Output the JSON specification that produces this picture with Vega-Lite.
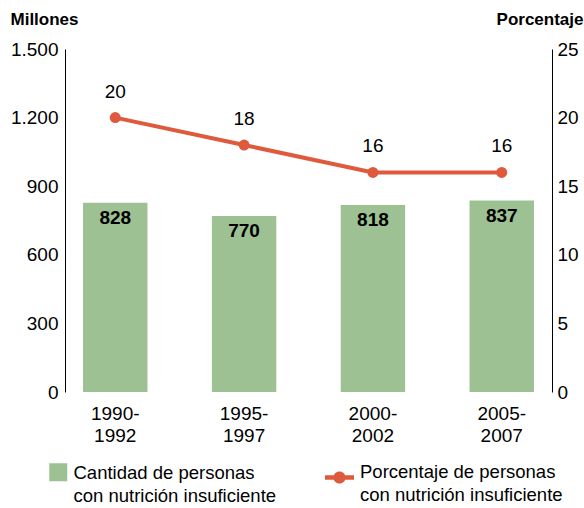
{
  "$schema": "https://vega.github.io/schema/vega-lite/v6.json",
  "width": 487,
  "height": 343,
  "autosize": "none",
  "padding": {"left": 65, "top": 49, "right": 32, "bottom": 116},
  "config": {
    "view": {"stroke": null},
    "font": "Liberation Sans",
    "axis": {"labelColor": "black", "titleColor": "black", "domainColor": "black", "grid": false, "ticks": false, "labelFontSize": 19}
  },
  "data": {
    "values": [
      {"periodo": "1990-1992", "personas": 828, "porcentaje": 20},
      {"periodo": "1995-1997", "personas": 770, "porcentaje": 18},
      {"periodo": "2000-2002", "personas": 818, "porcentaje": 16},
      {"periodo": "2005-2007", "personas": 837, "porcentaje": 16}
    ]
  },
  "encoding": {
    "x": {
      "field": "periodo",
      "type": "nominal",
      "sort": null,
      "scale": {"paddingInner": 0.5, "paddingOuter": 0.14},
      "axis": {
        "title": null,
        "domain": false,
        "labelAngle": 0,
        "labelPadding": 12,
        "labelLineHeight": 22,
        "labelExpr": "[slice(datum.label,0,5), slice(datum.label,5)]"
      }
    }
  },
  "layer": [
    {
      "encoding": {
        "y": {
          "field": "personas",
          "type": "quantitative",
          "scale": {"domain": [0, 1500]},
          "axis": {
            "title": "Millones",
            "titleAngle": 0,
            "titleAlign": "left",
            "titleBaseline": "alphabetic",
            "titleX": -55,
            "titleY": -25,
            "titleFontWeight": "bold",
            "titleFontSize": 17,
            "values": [0, 300, 600, 900, 1200, 1500],
            "labelExpr": "replace(format(datum.value, ','), ',', '.')",
            "labelPadding": 7
          }
        }
      },
      "layer": [
        {
          "mark": {"type": "bar"},
          "encoding": {
            "fill": {
              "datum": "Cantidad de personas con nutrición insuficiente",
              "scale": {"range": ["#9dc192"]},
              "legend": {
                "title": null,
                "orient": "none",
                "legendX": -16,
                "legendY": 414,
                "symbolType": "square",
                "symbolSize": 324,
                "symbolStrokeWidth": 0,
                "labelFontSize": 18.5,
                "labelColor": "black",
                "labelOffset": 6,
                "labelLimit": 400,
                "labelBaseline": "alphabetic",
                "labelExpr": "[substring(datum.label, 0, indexof(datum.label, ' con ')), substring(datum.label, indexof(datum.label, ' con ') + 1)]",
                "encode": {"labels": {"update": {"dy": {"value": 7}, "lineHeight": {"value": 23}}}}
              }
            }
          }
        },
        {
          "mark": {"type": "text", "baseline": "middle", "dy": 15, "fontWeight": "bold", "fontSize": 19, "color": "black"},
          "encoding": {"text": {"field": "personas", "type": "quantitative"}}
        }
      ]
    },
    {
      "encoding": {
        "y": {
          "field": "porcentaje",
          "type": "quantitative",
          "scale": {"domain": [0, 25]},
          "axis": {
            "orient": "right",
            "title": "Porcentaje",
            "titleAngle": 0,
            "titleAlign": "right",
            "titleBaseline": "alphabetic",
            "titleX": 31,
            "titleY": -25,
            "titleFontWeight": "bold",
            "titleFontSize": 17,
            "values": [0, 5, 10, 15, 20, 25],
            "labelPadding": 5
          }
        }
      },
      "layer": [
        {
          "mark": {"type": "line", "strokeWidth": 4},
          "encoding": {
            "stroke": {
              "datum": "Porcentaje de personas con nutrición insuficiente",
              "scale": {"range": ["#df5a3c"]},
              "legend": {
                "title": null,
                "orient": "none",
                "legendX": 260,
                "legendY": 414,
                "symbolType": "M-1,-0.15L1,-0.15L1,0.15L-1,0.15Z M0.42,0A0.42,0.42,0,1,1,-0.42,0A0.42,0.42,0,1,1,0.42,0Z",
                "symbolSize": 841,
                "symbolStrokeWidth": 0,
                "symbolFillColor": "#df5a3c",
                "labelFontSize": 18.5,
                "labelColor": "black",
                "labelOffset": 6,
                "labelLimit": 400,
                "labelBaseline": "alphabetic",
                "labelExpr": "[substring(datum.label, 0, indexof(datum.label, ' con ')), substring(datum.label, indexof(datum.label, ' con ') + 1)]",
                "encode": {
                  "symbols": {"update": {"fill": {"value": "#df5a3c"}, "strokeWidth": {"value": 0}}},
                  "labels": {"update": {"dy": {"value": 0}, "lineHeight": {"value": 23}}}
                }
              }
            }
          }
        },
        {
          "mark": {"type": "point", "filled": true, "size": 120, "color": "#df5a3c", "opacity": 1}
        },
        {
          "mark": {"type": "text", "baseline": "middle", "dy": -26, "fontSize": 19, "color": "black"},
          "encoding": {"text": {"field": "porcentaje", "type": "quantitative"}}
        }
      ]
    }
  ],
  "resolve": {"scale": {"y": "independent"}}
}
